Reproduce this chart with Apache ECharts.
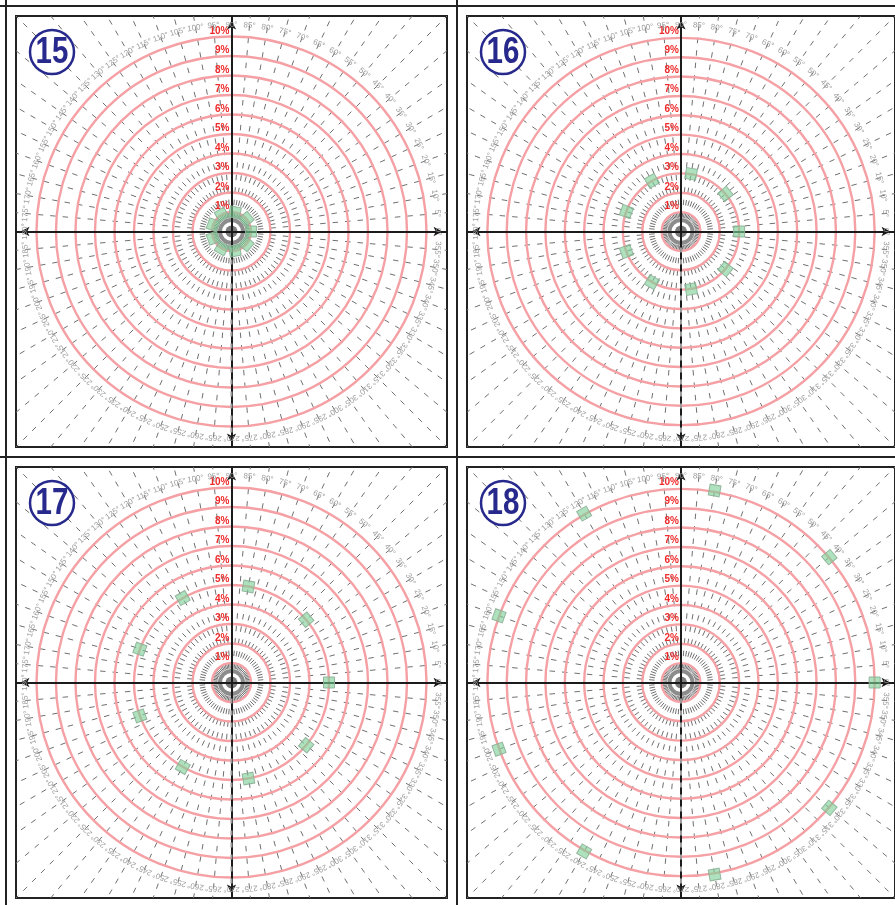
<!DOCTYPE html>
<html><head><meta charset="utf-8">
<script src="https://cdn.jsdelivr.net/npm/echarts/dist/echarts.min.js"></script>
<style>html,body{margin:0;padding:0;background:#fff}#c{width:895px;height:905px}</style>
</head><body><div id="c"></div>
<script>
// ---- data ----
const panelNumbers = ['15', '16', '17', '18'];
const markerRadii = [1, 3, 5, 10];               // % radius of the green markers per panel
const markerAngles = [0, 40, 80, 120, 160, 200, 240, 280, 320];
const ringPercents = [1, 2, 3, 4, 5, 6, 7, 8, 9, 10];
const ringLabels = ['1%', '2%', '3%', '4%', '5%', '6%', '7%', '8%', '9%', '10%'];
const angleTicks = [0, 5, 10, 15, 20, 25, 30, 35, 40, 45, 50, 55, 60, 65, 70, 75, 80, 85,
  90, 95, 100, 105, 110, 115, 120, 125, 130, 135, 140, 145, 150, 155, 160, 165, 170, 175,
  180, 185, 190, 195, 200, 205, 210, 215, 220, 225, 230, 235, 240, 245, 250, 255, 260, 265,
  270, 275, 280, 285, 290, 295, 300, 305, 310, 315, 320, 325, 330, 335, 340, 345, 350, 355];
const angleTickLabels = angleTicks.map(a => a + '°');
const axisExtent = 11.05;     // % shown from centre to frame
const labelRadius = 10.6;     // % radius of the angle labels
const lineReach = 16;         // % reach of radial lines (clipped by frame)

// ---- layout ----
const panelBoxes = [[16, 16], [467, 16], [16, 467], [467, 467]];
const BOX = 431;
const D2R = Math.PI / 180;

const chart = echarts.init(document.getElementById('c'), null, { renderer: 'canvas' });

const grids = [], xAxes = [], yAxes = [], series = [], graphics = [];

function axisCfg(i) {
  return {
    type: 'value', gridIndex: i, min: -axisExtent, max: axisExtent, z: 4,
    axisLine: { show: true, onZero: true, symbol: ['arrow', 'arrow'], symbolSize: [7, 9],
      symbolOffset: [4.5, -4.5], lineStyle: { color: '#1b1b1b', width: 2 } },
    axisTick: { show: false }, axisLabel: { show: false }, splitLine: { show: false }
  };
}

panelBoxes.forEach((b, i) => {
  grids.push({ left: b[0], top: b[1], width: BOX, height: BOX, show: true,
    borderColor: '#222', borderWidth: 2, backgroundColor: '#fff' });
  xAxes.push(axisCfg(i));
  yAxes.push(axisCfg(i));

  // radial dashed lines
  series.push({
    type: 'custom', xAxisIndex: i, yAxisIndex: i, clip: true, z: 1, silent: true,
    data: angleTicks.map(a => [a]),
    renderItem: (params, api) => {
      const a = api.value(0) * D2R;
      const c = api.coord([0, 0]);
      const f = api.coord([lineReach * Math.cos(a), lineReach * Math.sin(a)]);
      const r0 = 14;
      return { type: 'line', shape: { x1: c[0] + r0 * Math.cos(a), y1: c[1] - r0 * Math.sin(a), x2: f[0], y2: f[1] },
        style: { stroke: '#707070', lineWidth: 1, lineDash: [5.5, 7] } };
    }
  });
  // pink rings
  series.push({
    type: 'custom', xAxisIndex: i, yAxisIndex: i, z: 2, silent: true,
    data: ringPercents.map(p => [p]),
    renderItem: (params, api) => {
      const c = api.coord([0, 0]);
      const r = api.size([api.value(0), 0])[0];
      return { type: 'circle', shape: { cx: c[0], cy: c[1], r: r },
        style: { stroke: '#f5a0a4', fill: null, lineWidth: 2.4 } };
    }
  });
  // centre decoration
  series.push({
    type: 'custom', xAxisIndex: i, yAxisIndex: i, z: 3, silent: true,
    data: [[0, 0]],
    renderItem: (params, api) => {
      const c = api.coord([api.value(0), api.value(1)]);
      return { type: 'group', children: [
        { type: 'circle', shape: { cx: c[0], cy: c[1], r: 11.5 }, style: { stroke: '#8c8c8c', fill: null, lineWidth: 4 } },
        { type: 'circle', shape: { cx: c[0], cy: c[1], r: 6 }, style: { fill: '#7a7a7a' } }
      ] };
    }
  });
  // ring labels
  series.push({
    type: 'custom', xAxisIndex: i, yAxisIndex: i, z: 5, silent: true,
    data: ringPercents.map((p, k) => [p, k]),
    renderItem: (params, api) => {
      const p = api.coord([0, api.value(0)]);
      return { type: 'text', x: p[0] - 2, y: p[1] - 5.5,
        style: { text: ringLabels[api.value(1)], fill: '#ee2a2a', font: 'bold 10px "Liberation Sans", Arial, sans-serif',
          align: 'right', verticalAlign: 'middle', textAlign: 'right', textVerticalAlign: 'middle' } };
    }
  });
  // angle labels
  series.push({
    type: 'custom', xAxisIndex: i, yAxisIndex: i, z: 5, silent: true,
    data: angleTicks.map((a, k) => [a, k]),
    renderItem: (params, api) => {
      const a = api.value(0) * D2R;
      const p = api.coord([labelRadius * Math.cos(a), labelRadius * Math.sin(a)]);
      return { type: 'text', x: p[0], y: p[1], rotation: a - Math.PI / 2,
        style: { text: angleTickLabels[api.value(1)], fill: '#9c9c9c', font: '8px "Liberation Sans", Arial, sans-serif',
          align: 'center', verticalAlign: 'middle', textAlign: 'center', textVerticalAlign: 'middle' } };
    }
  });
  // dashed overlay on the lower vertical axis
  series.push({
    type: 'custom', xAxisIndex: i, yAxisIndex: i, z: 5, silent: true,
    data: [[270]],
    renderItem: (params, api) => {
      const c = api.coord([0, 0]);
      const f = api.coord([0, -axisExtent]);
      return { type: 'line', shape: { x1: c[0], y1: c[1] + 16, x2: f[0], y2: f[1] - 10 },
        style: { stroke: '#9a9a9a', lineWidth: 2, lineDash: [5, 7] } };
    }
  });
  // green markers
  series.push({
    type: 'custom', xAxisIndex: i, yAxisIndex: i, z: 6, silent: true,
    data: markerAngles.map(a => [markerRadii[i], a]),
    renderItem: (params, api) => {
      const r = api.value(0), a = api.value(1) * D2R;
      const p = api.coord([r * Math.cos(a), r * Math.sin(a)]);
      const s = 11;
      return { type: 'rect', x: p[0], y: p[1], rotation: a,
        shape: { x: -s / 2, y: -s / 2, width: s, height: s },
        style: { fill: 'rgba(125,208,152,0.62)', stroke: 'rgba(140,175,150,0.9)', lineWidth: 1 } };
    }
  });

  // panel number badge
  const bx = b[0] + 36, by = b[1] + 36;
  graphics.push({ type: 'circle', z: 100, shape: { cx: bx, cy: by, r: 22 },
    style: { fill: '#fff', stroke: '#27298c', lineWidth: 2.5 } });
  graphics.push({ type: 'text', z: 101, x: bx, y: by + 1, scaleX: 0.82,
    style: { text: panelNumbers[i], fill: '#27298c', font: 'bold 36px "Liberation Sans", Arial, sans-serif',
      align: 'center', verticalAlign: 'middle', textAlign: 'center', textVerticalAlign: 'middle' } });
});

// outer frame lines
[[6, 0, 6, 905], [457, 0, 457, 905], [0, 6, 895, 6], [0, 457, 895, 457]].forEach(l => {
  graphics.push({ type: 'line', z: 50, shape: { x1: l[0], y1: l[1], x2: l[2], y2: l[3] },
    style: { stroke: '#222', lineWidth: 2 } });
});

chart.setOption({
  backgroundColor: '#fff',
  animation: false,
  grid: grids, xAxis: xAxes, yAxis: yAxes, series: series, graphic: graphics
});
</script></body></html>
